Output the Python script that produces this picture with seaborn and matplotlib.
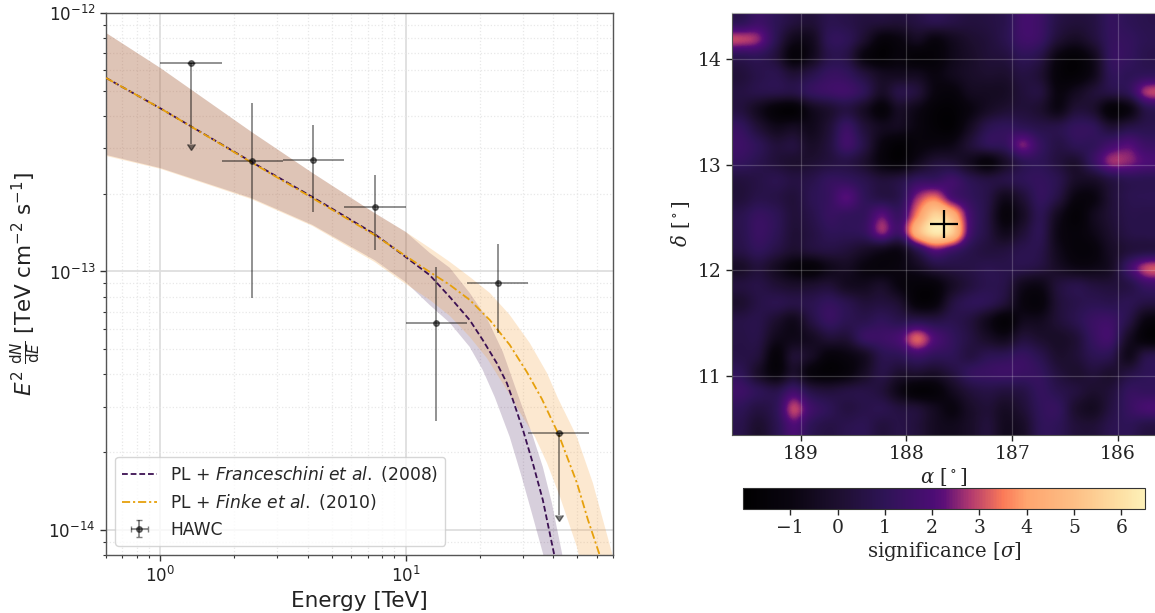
import numpy as np
import pandas as pd
import matplotlib
matplotlib.use("Agg")
import matplotlib.pyplot as plt
from matplotlib.colors import LinearSegmentedColormap
from matplotlib.ticker import NullFormatter, FixedLocator
import seaborn as sns

# ---- HAWC points
energy = [1.33, 2.37, 4.2, 7.5, 13.3, 23.7, 42.0]
e_low = [1.0, 1.78, 3.16, 5.6, 10.0, 17.8, 31.6]
e_high = [1.78, 3.16, 5.6, 10.0, 17.8, 31.6, 56.0]
flux = [6.4e-13, 2.68e-13, 2.7e-13, 1.77e-13, 6.3e-14, 9.0e-14, 2.37e-14]
flux_low = [3.1e-13, 7.9e-14, 1.7e-13, 1.21e-13, 2.65e-14, 5.8e-14, 1.14e-14]
flux_high = [6.4e-13, 4.5e-13, 3.7e-13, 2.37e-13, 1.04e-13, 1.28e-13, 2.37e-14]
is_limit = [True, False, False, False, False, False, True]

# ---- model curves, log10(E/TeV) and log10(flux)
fr_log_e = [-0.222, 0, 0.371, 0.620, 0.873, 1.0, 1.098, 1.180, 1.261, 1.314, 1.371, 1.412, 1.437, 1.478, 1.518, 1.559, 1.604, 1.616]
fr_log_f = [-12.251, -12.369, -12.576, -12.712, -12.855, -12.944, -13.014, -13.099, -13.188, -13.265, -13.354, -13.431, -13.497, -13.613, -13.741, -13.884, -14.089, -14.135]
fi_log_e = [-0.222, 0, 0.371, 0.620, 0.873, 1.0, 1.098, 1.180, 1.261, 1.343, 1.424, 1.494, 1.555, 1.624, 1.698, 1.743, 1.788, 1.800]
fi_log_f = [-12.251, -12.369, -12.578, -12.716, -12.859, -12.940, -13.002, -13.052, -13.110, -13.188, -13.284, -13.389, -13.493, -13.632, -13.818, -13.961, -14.089, -14.135]

fr_up_log_e = [-0.222, 0, 0.371, 0.620, 0.873, 1.0, 1.098, 1.180, 1.261, 1.331, 1.396, 1.465, 1.514, 1.559, 1.596, 1.637, 1.645]
fr_up_log_f = [-12.077, -12.213, -12.460, -12.619, -12.774, -12.847, -12.928, -12.986, -13.083, -13.180, -13.311, -13.497, -13.625, -13.756, -13.896, -14.089, -14.135]
fr_lo_log_e = [-0.222, 0, 0.371, 0.620, 0.873, 1.0, 1.098, 1.180, 1.261, 1.314, 1.363, 1.424, 1.473, 1.514, 1.559, 1.571]
fr_lo_log_f = [-12.549, -12.600, -12.716, -12.820, -12.956, -13.041, -13.130, -13.199, -13.292, -13.381, -13.486, -13.640, -13.795, -13.934, -14.089, -14.135]
fi_up_log_e = [-0.222, 0, 0.371, 0.620, 0.873, 1.0, 1.098, 1.180, 1.261, 1.343, 1.424, 1.506, 1.576, 1.620, 1.698, 1.763, 1.841, 1.857]
fi_up_log_f = [-12.077, -12.213, -12.460, -12.619, -12.774, -12.847, -12.909, -12.963, -13.021, -13.083, -13.168, -13.277, -13.393, -13.489, -13.640, -13.818, -14.089, -14.147]
fi_lo_log_e = [-0.222, 0, 0.371, 0.620, 0.873, 1.0, 1.098, 1.180, 1.261, 1.331, 1.412, 1.465, 1.527, 1.576, 1.629, 1.698, 1.714]
fi_lo_log_f = [-12.553, -12.603, -12.720, -12.824, -12.963, -13.048, -13.110, -13.172, -13.253, -13.335, -13.458, -13.544, -13.640, -13.741, -13.872, -14.066, -14.135]

label_fr = r"PL + $\mathit{Franceschini\ et\ al.}$ (2008)"
label_fi = r"PL + $\mathit{Finke\ et\ al.}$ (2010)"

# ---- significance map, read on a coarse grid (rows north to south, columns east to west)
sig_rows = [
 [1.0,1.5,1.0,0.4,0.2,0.8,0.7,0.4,0.3,0.2,0.5,0.8,0.6,0.4,0.5,0.8,1.7,1.5,0.6,0.3,0.5,1.2,1.0,0.8],
 [2.9,2.5,0.9,-0.6,-0.5,1.0,1.0,0.0,-1.2,-1.0,-0.4,-1.0,-0.5,0.0,0.3,0.8,1.6,1.4,0.2,-0.3,0.3,1.2,1.2,0.9],
 [0.9,1.0,0.3,-1.3,-0.6,0.7,0.6,-1.0,-1.6,-1.2,-1.5,-1.4,-0.7,-0.2,0.2,0.4,1.0,0.6,-1.0,-1.5,-0.6,1.2,1.2,0.8],
 [0.3,0.7,0.8,0.2,0.7,1.3,1.2,0.4,-0.4,-0.5,-0.5,-1.0,-0.6,-0.2,0.0,0.0,0.5,0.1,-1.3,-1.5,-0.7,1.0,1.0,1.1],
 [0.5,0.7,0.7,0.6,1.2,1.5,1.6,1.0,-0.2,0.6,0.3,-1.0,-1.2,-0.5,-0.4,-0.3,0.3,0.4,-1.0,-0.5,0.2,0.6,1.0,2.7],
 [0.4,-0.5,-1.4,-1.6,-0.6,0.0,0.5,-0.3,-1.3,-0.3,-0.8,-1.5,-1.6,-1.0,-0.3,0.1,0.3,0.0,-0.8,0.2,0.0,-1.4,-1.0,0.7],
 [1.2,0.2,-0.6,-0.4,-0.6,0.2,1.4,0.3,-0.5,-0.5,-1.0,-1.5,-1.6,-0.4,0.8,1.1,1.0,0.7,0.7,1.2,1.1,0.2,0.6,0.8],
 [1.5,1.0,0.3,0.4,-0.2,0.4,1.6,0.6,-1.0,-1.6,-1.2,-1.0,-0.8,0.2,1.0,1.2,2.4,1.3,0.6,1.0,1.1,1.7,2.1,1.5],
 [1.2,0.8,0.3,0.0,0.1,0.4,0.6,0.0,-1.1,-1.5,-0.6,0.2,0.2,-0.5,-1.2,-0.2,0.9,1.0,0.4,0.0,1.3,2.6,2.5,2.0],
 [0.4,0.6,0.8,0.5,0.7,1.2,1.2,0.8,0.3,0.5,1.2,1.3,1.6,0.9,0.5,0.6,1.0,1.2,0.8,-0.2,-0.2,0.5,0.9,0.9],
 [0.3,0.7,0.6,0.3,0.9,1.3,2.1,1.1,0.6,0.8,2.6,3.4,1.9,1.2,0.6,-0.6,0.2,1.2,0.5,-1.0,-1.0,0.2,0.8,0.9],
 [0.8,1.3,1.0,0.3,0.7,1.3,1.2,1.2,2.2,1.4,3.6,5.6,4.6,1.8,0.5,-1.2,-0.3,0.9,-0.5,-1.5,-0.6,0.2,0.7,0.7],
 [0.8,1.4,1.0,0.2,0.5,1.0,1.0,1.2,2.5,1.6,4.6,6.2,5.4,1.8,0.5,-0.6,0.2,0.9,-0.8,-1.3,-0.8,0.0,0.6,0.7],
 [0.6,1.1,0.6,0.0,0.3,0.5,0.3,-0.2,-0.6,-0.8,0.8,2.2,1.6,0.8,0.4,0.4,0.8,0.7,-0.6,-1.3,-1.2,-0.3,0.3,0.5],
 [-0.2,0.3,-0.4,-1.2,-1.4,-0.7,-0.4,-1.0,-1.2,-1.0,-0.5,0.3,0.5,0.6,0.8,0.7,0.7,0.4,-0.3,-0.8,-0.8,-0.3,1.5,2.9],
 [0.4,0.6,0.2,-0.1,0.0,0.2,-0.4,-0.5,-0.2,-1.0,-1.4,-1.3,-0.3,0.4,0.8,0.6,-0.6,-0.8,0.3,0.7,0.4,0.3,0.6,1.4],
 [0.0,0.6,0.8,0.6,0.8,1.2,0.8,0.3,0.4,0.0,-1.3,-1.2,0.4,1.0,0.9,0.2,-1.0,-1.2,0.2,0.7,0.9,0.8,0.9,0.5],
 [0.6,0.7,0.0,-0.6,0.5,1.3,0.9,0.8,1.1,0.8,0.8,0.6,0.8,0.4,-0.6,-1.5,-0.6,-0.5,0.2,0.8,1.4,1.5,0.6,-1.0],
 [0.6,0.6,-0.6,-0.7,-0.4,0.2,0.2,1.3,1.5,1.9,3.2,2.0,1.2,0.5,-0.2,-0.6,0.3,0.0,-0.2,0.2,1.3,1.6,-0.3,-1.4],
 [0.6,0.3,-1.3,0.1,-0.3,-1.2,-1.0,-0.4,0.8,1.0,1.5,1.1,1.0,0.5,0.9,1.0,1.3,0.8,0.0,0.2,0.9,0.8,-0.6,0.6],
 [1.0,-0.2,-1.2,-0.1,-1.2,-1.5,-1.2,-0.3,0.6,0.0,0.0,-0.2,0.4,1.2,1.4,1.5,1.4,1.2,0.4,0.0,0.3,0.0,0.5,1.0],
 [1.5,1.0,0.7,1.6,0.6,0.3,0.5,0.6,0.3,-0.8,-1.5,-1.4,-0.5,0.3,0.6,0.4,0.6,1.2,0.8,0.4,0.0,0.3,1.2,1.2],
 [1.0,0.5,1.0,2.9,1.6,1.0,0.5,0.7,0.8,0.4,0.2,-0.5,-1.0,-0.2,0.2,-0.3,0.2,1.1,1.2,0.0,-0.4,0.5,1.3,1.8],
 [0.7,0.0,0.8,2.0,1.0,0.6,0.8,0.9,0.4,0.6,0.3,-0.4,-0.6,-0.2,0.3,-0.5,-0.2,1.0,1.0,0.3,0.2,0.8,1.0,0.6],
]
ra_ticks = [189, 188, 187, 186]
dec_ticks = [11, 12, 13, 14]
cbar_ticks = [-1, 0, 1, 2, 3, 4, 5, 6]
e_ticks = [1, 10]
f_ticks = [1e-14, 1e-13, 1e-12]
e_minor = [0.6, 0.7, 0.8, 0.9, 2, 3, 4, 5, 6, 7, 8, 9, 20, 30, 40, 50, 60, 70]
f_minor = [9e-15, 8e-15, 2e-14, 3e-14, 4e-14, 5e-14, 6e-14, 7e-14, 8e-14, 9e-14,
           2e-13, 3e-13, 4e-13, 5e-13, 6e-13, 7e-13, 8e-13, 9e-13]
source_ra = 187.65
source_dec = 12.44

cmap_values = [-2.0, -1.0, 0.0, 1.0, 2.0, 2.25, 2.8, 3.5, 4.0, 5.0, 6.0, 6.5]
cmap_colors = ["#000000", "#0a0510", "#1d0f2f", "#2e1456", "#4b0d74", "#5c0f78",
               "#b0386f", "#fb7a58", "#fea56f", "#fdbe85", "#fde0a4", "#fdf0b8"]

COL_FR = "#3b1052"
COL_FI = "#e6a00c"

sns.set_style("white")
plt.rcParams["font.family"] = ["DejaVu Sans"]
plt.rcParams["mathtext.fontset"] = "dejavusans"

W, H = 1155, 613
fig = plt.figure(figsize=(W / 100, H / 100), dpi=100)


def rect(x0, y0, x1, y1):
    return [x0 / W, 1 - y1 / H, (x1 - x0) / W, (y1 - y0) / H]


# ---------------- spectrum
ax = fig.add_axes(rect(106, 13, 613, 555))
ax.set_xscale("log")
ax.set_yscale("log")


def curve(log_e, log_f):
    return 10.0 ** np.array(log_e), 10.0 ** np.array(log_f)


def band(a_e, a_f, b_e, b_f, color, alpha):
    xa, ya = curve(a_e, a_f)
    xb, yb = curve(b_e, b_f)
    ax.fill(np.r_[xa, xb[::-1]], np.r_[ya, yb[::-1]], facecolor=color, edgecolor="none", alpha=alpha, lw=0, zorder=2)


band(fr_up_log_e, fr_up_log_f, fr_lo_log_e, fr_lo_log_f, COL_FR, 0.2)
band(fi_up_log_e, fi_up_log_f, fi_lo_log_e, fi_lo_log_f, "#f5a546", 0.25)

x_fr, y_fr = curve(fr_log_e, fr_log_f)
x_fi, y_fi = curve(fi_log_e, fi_log_f)
sns.lineplot(data=pd.DataFrame({"e": x_fr, "f": y_fr}), x="e", y="f", ax=ax, color=COL_FR, lw=1.3,
             ls=(0, (3.2, 1.6)), estimator=None, sort=False, label=label_fr, zorder=3)
sns.lineplot(data=pd.DataFrame({"e": x_fi, "f": y_fi}), x="e", y="f", ax=ax, color=COL_FI, lw=1.3,
             ls=(0, (4.5, 1.6, 1.2, 1.6)), estimator=None, sort=False, label=label_fi, zorder=3.1)

e = np.array(energy)
f = np.array(flux)
xerr = [e - np.array(e_low), np.array(e_high) - e]
limit = np.array(is_limit)
yerr = np.array([f - np.array(flux_low), np.array(flux_high) - f])
ekw = dict(color="k", alpha=0.5, elinewidth=1.2, zorder=4)
ax.errorbar(e, f, xerr=xerr, fmt="o", ms=4, **ekw)
ax.errorbar(e[~limit], f[~limit], yerr=yerr[:, ~limit], fmt="none", **ekw)
ax.errorbar(e[limit], f[limit], yerr=yerr[:, limit], fmt="none", uplims=True, capsize=3, **ekw)
ax.errorbar([np.nan], [np.nan], xerr=[1], yerr=[1], fmt="o", ms=4, capsize=2, label="HAWC",
            color="k", alpha=0.5, elinewidth=1.2)

ax.set_xlim(0.6, 70)
ax.set_ylim(8e-15, 1e-12)
ax.xaxis.set_major_locator(FixedLocator(e_ticks))
ax.yaxis.set_major_locator(FixedLocator(f_ticks))
ax.xaxis.set_minor_locator(FixedLocator(e_minor))
ax.yaxis.set_minor_locator(FixedLocator(f_minor))
ax.xaxis.set_minor_formatter(NullFormatter())
ax.yaxis.set_minor_formatter(NullFormatter())
ax.grid(True, which="major", color="#dedede", lw=1.3, zorder=0)
ax.grid(True, which="minor", color="#e8e8e8", lw=0.9, ls=":", zorder=0)
ax.set_axisbelow(True)
ax.tick_params(which="major", labelsize=12, length=4, width=1, color="#333333", left=True, bottom=True, labelcolor="#222222")
ax.tick_params(which="minor", length=2.5, width=0.8, color="#333333", left=True, bottom=True)
for s in ax.spines.values():
    s.set_color("#555555")
    s.set_linewidth(1.0)
ax.set_xlabel("Energy [TeV]", fontsize=15.5, labelpad=4, color="#222222")
ax.set_ylabel(r"$E^2\ \frac{\mathrm{d}N}{\mathrm{d}E}$ [TeV cm$^{-2}$ s$^{-1}$]", fontsize=15.5, labelpad=4, color="#222222")
ax.legend(loc="lower left", fontsize=12.35, frameon=True, framealpha=0.8, borderaxespad=0.55)

# ---------------- map
cmap = LinearSegmentedColormap.from_list(
    "sig", [((v - cmap_values[0]) / (cmap_values[-1] - cmap_values[0]), c) for v, c in zip(cmap_values, cmap_colors)], N=256)
ax2 = fig.add_axes(rect(732, 13, 1155, 435))
im = ax2.imshow(np.array(sig_rows), cmap=cmap, vmin=-2.0, vmax=6.5, origin="upper", aspect="auto",
                extent=[189.65, 185.65, 10.44, 14.44], interpolation="catrom")
ax2.set_xticks(ra_ticks)
ax2.set_yticks(dec_ticks)
ax2.grid(True, color="white", alpha=0.2, lw=0.9)
ax2.plot([source_ra], [source_dec], marker="+", ms=20.5, mew=1.6, color="black", ls="none")
ax2.tick_params(labelsize=13.5, length=4, width=1, left=True, bottom=True, color="#222222", labelcolor="#222222")
for lab in ax2.get_xticklabels() + ax2.get_yticklabels():
    lab.set_fontfamily("DejaVu Serif")
for s in ax2.spines.values():
    s.set_color("#555555")
ax2.spines["top"].set_color("#aaaaaa")
ax2.spines["right"].set_visible(False)
ax2.set_xlabel(r"$\alpha$ [$^\circ$]", fontsize=14.1, family="DejaVu Serif", math_fontfamily="dejavuserif", labelpad=2)
ax2.set_ylabel(r"$\delta$ [$^\circ$]", fontsize=14.1, family="DejaVu Serif", math_fontfamily="dejavuserif", labelpad=4)

cax = fig.add_axes(rect(743, 488, 1145, 509))
cb = fig.colorbar(im, cax=cax, orientation="horizontal")
cb.set_ticks(cbar_ticks)
cb.ax.tick_params(labelsize=13.5, length=4, width=1, bottom=True)
for lab in cb.ax.get_xticklabels():
    lab.set_fontfamily("DejaVu Serif")
cb.set_label(r"significance [$\sigma$]", fontsize=14.1, family="DejaVu Serif", math_fontfamily="dejavuserif", labelpad=2)
cb.outline.set_edgecolor("#333333")

fig.savefig("out.png", dpi=100)
